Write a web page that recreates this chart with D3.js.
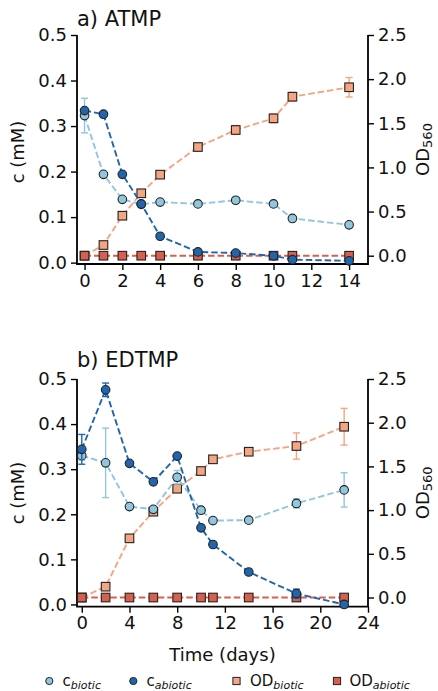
<!DOCTYPE html>
<html>
<head>
<meta charset="utf-8">
<script src="https://cdn.jsdelivr.net/npm/d3@7"></script>
<style>
html,body{margin:0;padding:0;background:#fff;}
svg{display:block;font-family:"DejaVu Sans",sans-serif;}
</style>
</head>
<body>
<svg id="chart" width="438" height="691"></svg>
<script>
// ---------- DATA ----------
// Panel a) ATMP
const daysA = [0, 1, 2, 3, 4, 6, 8, 10, 11, 14];
const cBioticA = [0.323, 0.194, 0.139, 0.128, 0.133, 0.129, 0.137, 0.129, 0.097, 0.083];
const cBioticAErr = [0.038, 0, 0, 0, 0, 0, 0, 0, 0, 0];
const cAbioticA = [0.334, 0.326, 0.194, 0.129, 0.058, 0.0235, 0.021, 0.015, 0.0066, 0.004];
const cAbioticAErr = [0, 0, 0, 0, 0, 0, 0, 0, 0, 0];
const odBioticA = [0.0, 0.121, 0.453, 0.707, 0.918, 1.231, 1.424, 1.556, 1.801, 1.908];
const odBioticAErr = [0, 0, 0, 0, 0, 0, 0.05, 0.05, 0.05, 0.11];
const odAbioticA = [0, 0, 0, 0, 0, 0, 0, 0, 0, 0];

// Panel b) EDTMP
const daysB = [0, 2, 4, 6, 8, 10, 11, 14, 18, 22];
const cBioticB = [0.330, 0.314, 0.217, 0.211, 0.282, 0.209, 0.186, 0.187, 0.224, 0.254];
const cBioticBErr = [0.01, 0.077, 0, 0, 0.015, 0, 0, 0, 0.01, 0.038];
const cAbioticB = [0.344, 0.476, 0.313, 0.272, 0.329, 0.170, 0.133, 0.072, 0.024, 0.0];
const cAbioticBErr = [0.033, 0.015, 0, 0, 0, 0, 0, 0, 0.01, 0];
const odBioticB = [0.0, 0.124, 0.677, 0.982, 1.245, 1.447, 1.581, 1.668, 1.733, 1.954];
const odBioticBErr = [0, 0, 0, 0, 0.03, 0, 0, 0, 0.15, 0.21];
const odAbioticB = [0, 0, 0, 0, 0, 0, 0, 0, 0, 0];

const xTicksA = [0, 2, 4, 6, 8, 10, 12, 14];
const xTicksB = [0, 4, 8, 12, 16, 20, 24];
const cTicks = [0.0, 0.1, 0.2, 0.3, 0.4, 0.5];
const odTicks = [0.0, 0.5, 1.0, 1.5, 2.0, 2.5];

const colors = {cBiotic: "#92c5de", cAbiotic: "#2166ac", odBiotic: "#f4a582", odAbiotic: "#d6604d"};

// ---------- DRAW ----------
const svg = d3.select("#chart");
const tickFont = 18;

function panel(cfg) {
  const g = svg.append("g");
  const x = d3.scaleLinear().domain(cfg.xDomain).range([77, 368]);
  const yL = d3.scaleLinear().domain(cfg.cDomain).range([cfg.bottom, cfg.top]);
  const yR = d3.scaleLinear().domain(cfg.odDomain).range([cfg.bottom, cfg.top]);

  const axL = d3.axisLeft(yL).tickValues(cTicks).tickFormat(d3.format(".1f")).tickSize(6).tickPadding(4);
  const axR = d3.axisRight(yR).tickValues(odTicks).tickFormat(d3.format(".1f")).tickSize(6).tickPadding(4);
  const axB = d3.axisBottom(x).tickValues(cfg.xTicks).tickFormat(d3.format("d")).tickSize(6).tickPadding(4);

  const styleAxis = sel => {
    sel.select(".domain").remove();
    sel.selectAll(".tick line").attr("stroke", "#000").attr("stroke-width", 1.4);
    sel.selectAll(".tick text").attr("font-size", tickFont).attr("fill", "#111").attr("font-family", "DejaVu Sans");
  };
  g.append("g").attr("transform", "translate(77,0)").call(axL).call(styleAxis);
  g.append("g").attr("transform", "translate(368,0)").call(axR).call(styleAxis);
  g.append("g").attr("transform", `translate(0,${cfg.bottom})`).call(axB).call(styleAxis);

  g.append("path").attr("d", `M77,${cfg.top}V${cfg.bottom}H368V${cfg.top}`)
    .attr("fill", "none").attr("stroke", "#000").attr("stroke-width", 1.8);

  const plot = g.append("g");

  function series(days, vals, errs, scale, color, shape) {
    const pts = days.map((d, i) => ({x: d, y: vals[i], e: errs ? errs[i] : 0}));
    const line = d3.line().x(d => x(d.x)).y(d => scale(d.y));
    plot.append("path").datum(pts).attr("d", line)
      .attr("fill", "none").attr("stroke", color).attr("stroke-width", 1.9)
      .attr("stroke-dasharray", "6.5,3");
    const eb = plot.append("g").attr("stroke", color).attr("stroke-width", 1.4);
    pts.filter(p => p.e > 0).forEach(p => {
      const cx = x(p.x), y1 = scale(p.y - p.e), y2 = scale(p.y + p.e);
      eb.append("line").attr("x1", cx).attr("x2", cx).attr("y1", y1).attr("y2", y2);
      eb.append("line").attr("x1", cx - 3.5).attr("x2", cx + 3.5).attr("y1", y1).attr("y2", y1);
      eb.append("line").attr("x1", cx - 3.5).attr("x2", cx + 3.5).attr("y1", y2).attr("y2", y2);
    });
    const mk = plot.append("g");
    if (shape === "circle") {
      mk.selectAll("circle").data(pts).join("circle")
        .attr("cx", d => x(d.x)).attr("cy", d => scale(d.y)).attr("r", 4.3)
        .attr("fill", color).attr("stroke", "#222").attr("stroke-width", 1.1);
    } else {
      mk.selectAll("rect").data(pts).join("rect")
        .attr("x", d => x(d.x) - 4.3).attr("y", d => scale(d.y) - 4.3)
        .attr("width", 8.6).attr("height", 8.6)
        .attr("fill", color).attr("stroke", "#222").attr("stroke-width", 1.1);
    }
  }

  series(cfg.days, cfg.odBiotic, cfg.odBioticErr, yR, colors.odBiotic, "square");
  series(cfg.days, cfg.odAbiotic, null, yR, colors.odAbiotic, "square");
  series(cfg.days, cfg.cBiotic, cfg.cBioticErr, yL, colors.cBiotic, "circle");
  series(cfg.days, cfg.cAbiotic, cfg.cAbioticErr, yL, colors.cAbiotic, "circle");

  g.append("text").attr("x", 77).attr("y", cfg.titleY).attr("font-size", 21).attr("fill", "#111")
    .text(cfg.title);

  const mid = (cfg.top + cfg.bottom) / 2;
  g.append("text").attr("transform", `translate(24,${cfg.cLabelY}) rotate(-90)`)
    .attr("text-anchor", "middle").attr("font-size", 18).attr("fill", "#111").text("c (mM)");
  const od2 = g.append("text").attr("transform", `translate(429,${mid}) rotate(-90)`)
    .attr("text-anchor", "middle").attr("font-size", 18).attr("fill", "#111");
  od2.append("tspan").text("OD");
  od2.append("tspan").attr("font-size", 13).attr("dy", 3).text("560");
}

panel({
  title: "a) ATMP", titleY: 26, top: 35, bottom: 264, cLabelY: 152,
  xDomain: [-0.4, 15.0], cDomain: [-0.003, 0.5], odDomain: [-0.094, 2.5], xTicks: xTicksA,
  days: daysA, cBiotic: cBioticA, cBioticErr: cBioticAErr, cAbiotic: cAbioticA, cAbioticErr: cAbioticAErr,
  odBiotic: odBioticA, odBioticErr: odBioticAErr, odAbiotic: odAbioticA
});
panel({
  title: "b) EDTMP", titleY: 367, top: 379, bottom: 606.7, cLabelY: 493,
  xDomain: [-0.4, 24], cDomain: [-0.005, 0.5], odDomain: [-0.105, 2.5], xTicks: xTicksB,
  days: daysB, cBiotic: cBioticB, cBioticErr: cBioticBErr, cAbiotic: cAbioticB, cAbioticErr: cAbioticBErr,
  odBiotic: odBioticB, odBioticErr: odBioticBErr, odAbiotic: odAbioticB
});

svg.append("text").attr("x", 222.5).attr("y", 661).attr("text-anchor", "middle")
  .attr("font-size", 18).attr("fill", "#111").text("Time (days)");

const legendItems = [
  {main: "c", sub: "biotic", color: colors.cBiotic, shape: "circle", mx: 49.3, tx: 62.5},
  {main: "c", sub: "abiotic", color: colors.cAbiotic, shape: "circle", mx: 133.3, tx: 146.5},
  {main: "OD", sub: "biotic", color: colors.odBiotic, shape: "square", mx: 236.5, tx: 250},
  {main: "OD", sub: "abiotic", color: colors.odAbiotic, shape: "square", mx: 337, tx: 349.5}
];
const lg = svg.append("g");
legendItems.forEach(it => {
  if (it.shape === "circle") {
    lg.append("circle").attr("cx", it.mx).attr("cy", 681).attr("r", 3.6)
      .attr("fill", it.color).attr("stroke", "#222").attr("stroke-width", 1);
  } else {
    lg.append("rect").attr("x", it.mx - 3.6).attr("y", 681 - 3.6).attr("width", 7.2).attr("height", 7.2)
      .attr("fill", it.color).attr("stroke", "#222").attr("stroke-width", 1);
  }
  const t = lg.append("text").attr("x", it.tx).attr("y", 685.5).attr("font-size", 15).attr("fill", "#111");
  t.append("tspan").text(it.main);
  t.append("tspan").attr("font-size", 11).attr("font-style", "italic").attr("dy", 3).text(it.sub);
});
</script>
</body>
</html>
